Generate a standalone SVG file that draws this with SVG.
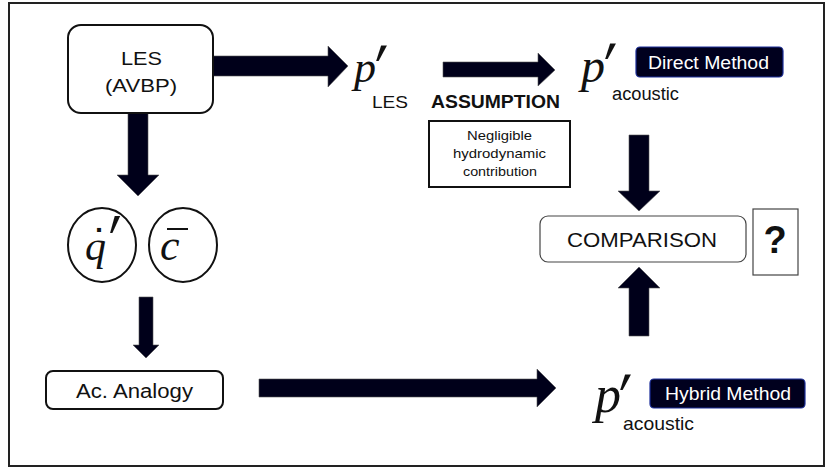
<svg xmlns="http://www.w3.org/2000/svg" width="830" height="471" viewBox="0 0 830 471">
<defs>
<style>
.frame{fill:#fff;stroke:#222;stroke-width:2}
.box{fill:#fff;stroke:#111;stroke-width:2}
.thin{fill:#fff;stroke:#444;stroke-width:1.2}
.arrow{fill:#00001a;stroke:#555;stroke-width:0.6}
.sans{font-family:"Liberation Sans",Arial,sans-serif;fill:#111}
.math{font-family:"Liberation Serif","DejaVu Serif",serif;font-style:italic;fill:#111}
.prime{font-family:"DejaVu Sans","Liberation Sans",sans-serif;fill:#111}
.tag{fill:#00001e;stroke:#1c2e9a;stroke-width:1.2}
.tagtxt{font-family:"Liberation Sans",Arial,sans-serif;fill:#fff;font-size:18px}
</style>
</defs>
<rect class="frame" x="9" y="3" width="815" height="463"/>

<g id="connectors">
<polygon class="arrow" points="213,56 328,56 328,46 348,66 328,87 328,76 213,76"/>
<polygon class="arrow" points="128,113 148,113 148,175 159,175 138,196 117,175 128,175"/>
<polygon class="arrow" points="139,297 153,297 153,345 159,345 146,358 133,345 139,345"/>
<polygon class="arrow" points="259,379 537,379 537,369 556,388 537,407 537,397 259,397"/>
<polygon class="arrow" points="443,62 538,62 538,53 555,70 538,86 538,77 443,77"/>
<polygon class="arrow" points="629,135 649,135 649,191 660,191 639,211 618,191 629,191"/>
<polygon class="arrow" points="629,336 649,336 649,288 660,288 639,267 618,288 629,288"/>
</g>

<g id="les">
<rect class="box" x="68" y="25" width="145" height="88" rx="13"/>
<text class="sans" x="121" y="65" font-size="19" textLength="41" lengthAdjust="spacingAndGlyphs">LES</text>
<text class="sans" x="105" y="92" font-size="19" textLength="72" lengthAdjust="spacingAndGlyphs">(AVBP)</text>
</g>

<g id="p-les">
<text class="math" x="354" y="82" font-size="44">p</text>
<text class="prime" transform="translate(375,107) scale(1.2,1.7)" font-size="49">′</text>
<text class="sans" x="372" y="108" font-size="17" textLength="36" lengthAdjust="spacingAndGlyphs">LES</text>
</g>

<g id="qdot">
<ellipse class="box" cx="102" cy="245" rx="34" ry="37" stroke-width="1.6"/>
<text class="math" x="85" y="260" font-size="42">q</text>
<text class="prime" x="89" y="259" font-size="40">˙</text>
<text class="prime" transform="translate(109,285) scale(1.1,1.9)" font-size="50">′</text>
</g>

<g id="cbar">
<ellipse class="box" cx="183" cy="245" rx="34" ry="37" stroke-width="1.6"/>
<text class="math" x="160" y="260" font-size="44">c</text>
<rect x="167" y="228" width="21" height="2" fill="#111"/>
</g>

<g id="analogy">
<rect class="box" x="46" y="371" width="177" height="38" rx="7"/>
<text class="sans" x="76" y="398" font-size="20" textLength="117" lengthAdjust="spacingAndGlyphs">Ac. Analogy</text>
</g>

<g id="assumption">
<text class="sans" x="431" y="108" font-size="18" font-weight="bold" textLength="129" lengthAdjust="spacingAndGlyphs">ASSUMPTION</text>
<rect class="box" x="429" y="121" width="141" height="66"/>
<text class="sans" x="467" y="140" font-size="13.5" textLength="65" lengthAdjust="spacingAndGlyphs">Negligible</text>
<text class="sans" x="453" y="158" font-size="13.5" textLength="93" lengthAdjust="spacingAndGlyphs">hydrodynamic</text>
<text class="sans" x="463" y="176" font-size="13.5" textLength="74" lengthAdjust="spacingAndGlyphs">contribution</text>
</g>

<g id="p-direct">
<text class="math" x="581" y="82" font-size="48">p</text>
<text class="prime" transform="translate(604,105) scale(1.2,1.7)" font-size="49">′</text>
<text class="sans" x="612" y="100" font-size="18" textLength="67" lengthAdjust="spacingAndGlyphs">acoustic</text>
<rect class="tag" x="636" y="47" width="147" height="30" rx="4"/>
<text class="tagtxt" x="648" y="69" textLength="121" lengthAdjust="spacingAndGlyphs">Direct Method</text>
</g>

<g id="comparison">
<rect class="thin" x="540" y="216" width="206" height="46" rx="8"/>
<text class="sans" x="567" y="247" font-size="20" textLength="150" lengthAdjust="spacingAndGlyphs">COMPARISON</text>
</g>

<g id="question">
<rect class="thin" x="753" y="209" width="45" height="66" stroke="#111"/>
<text class="sans" x="775" y="253" font-size="38" font-weight="bold" text-anchor="middle" fill="#0b0b2e">?</text>
</g>

<g id="p-hybrid">
<text class="math" x="595" y="412" font-size="52">p</text>
<text class="prime" transform="translate(619,436) scale(1.2,1.7)" font-size="49">′</text>
<text class="sans" x="623" y="430" font-size="19" textLength="71" lengthAdjust="spacingAndGlyphs">acoustic</text>
<rect class="tag" x="650" y="379" width="155" height="29" rx="4"/>
<text class="tagtxt" x="665" y="400" textLength="126" lengthAdjust="spacingAndGlyphs">Hybrid Method</text>
</g>
</svg>
